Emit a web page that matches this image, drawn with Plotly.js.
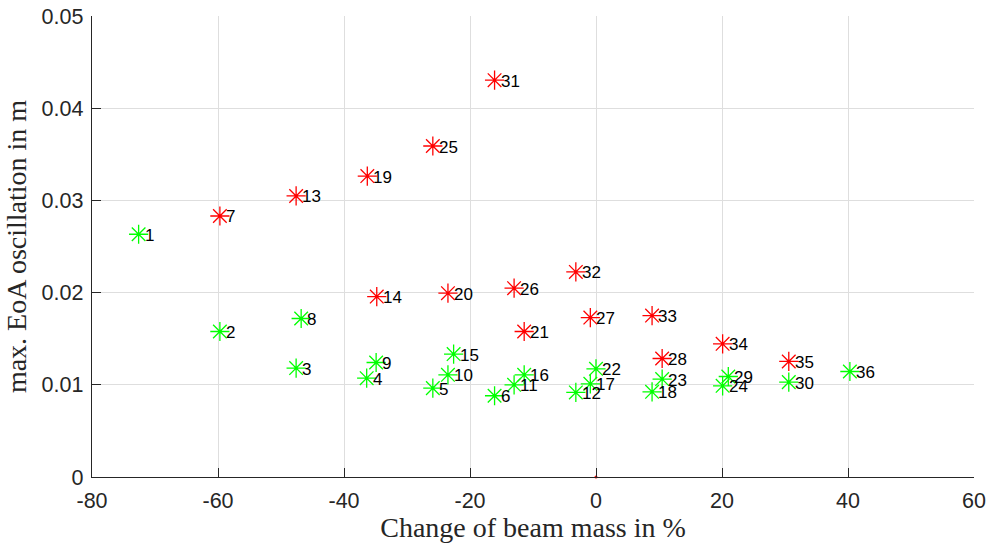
<!DOCTYPE html>
<html>
<head>
<meta charset="utf-8">
<script src="https://cdn.plot.ly/plotly-3.0.1.min.js"></script>
<style>html,body{margin:0;padding:0;background:#fff;}#chart{width:989px;height:543px;}</style>
</head>
<body>
<div id="chart"></div>
<script>
// Red group (larger oscillation)
var redIds = [7, 13, 19, 25, 31, 14, 20, 26, 21, 32, 27, 33, 28, 34, 35];
var redX   = [-59.7, -47.6, -36.3, -25.9, -16.1, -34.8, -23.5, -13.0, -11.4, -3.2, -0.9, 8.9, 10.5, 20.1, 30.6];
var redY   = [0.02831, 0.03048, 0.03264, 0.03590, 0.04304, 0.01957, 0.01994, 0.02048, 0.01578, 0.02224, 0.01729, 0.01751, 0.01285, 0.01444, 0.01253];

// Green group
var greenIds = [1, 2, 3, 4, 5, 6, 8, 9, 10, 11, 12, 15, 16, 17, 18, 22, 23, 24, 29, 30, 36];
var greenX   = [-72.6, -59.7, -47.6, -36.4, -25.9, -16.1, -46.8, -34.9, -23.5, -13.0, -3.2, -22.6, -11.4, -0.9, 8.9, 0.0, 10.5, 20.1, 21.0, 30.6, 40.3];
var greenY   = [0.02633, 0.01578, 0.01181, 0.01072, 0.00964, 0.00881, 0.01719, 0.01242, 0.01108, 0.01000, 0.00917, 0.01333, 0.01108, 0.01011, 0.00924, 0.01173, 0.01062, 0.00989, 0.01090, 0.01029, 0.01144];

// Reference point
var refX = [0];
var refY = [0];

var xTickVals = [-80, -60, -40, -20, 0, 20, 40, 60];
var xTickText = ['-80', '-60', '-40', '-20', '0', '20', '40', '60'];
var yTickVals = [0, 0.01, 0.02, 0.03, 0.04, 0.05];
var yTickText = ['0', '0.01', '0.02', '0.03', '0.04', '0.05'];

var xTitle = 'Change of beam mass in %';
var yTitle = 'max. EoA oscillation in m';

var axisColor = '#262626';
var gridColor = '#dedede';
var sans = 'Liberation Sans, Arial, sans-serif';
var serif = 'Liberation Serif, Times New Roman, serif';

function markerTrace(xs, ys, color) {
  return {
    type: 'scatter', mode: 'markers', x: xs, y: ys, hoverinfo: 'skip',
    marker: {symbol: 'asterisk-open', size: 16, color: color, line: {color: color, width: 1.3}},
    cliponaxis: false
  };
}

var traces = [
  markerTrace(greenX, greenY, '#00ff00'),
  markerTrace(redX, redY, '#ff0000'),
  {type: 'scatter', mode: 'markers', x: refX, y: refY, hoverinfo: 'skip', cliponaxis: false,
   marker: {symbol: 'circle', size: 3, color: '#ff0000'}}
];

var annotations = [];
function addLabels(ids, xs, ys) {
  for (var i = 0; i < ids.length; i++) {
    annotations.push({
      x: xs[i], y: ys[i], xref: 'x', yref: 'y', text: String(ids[i]),
      showarrow: false, xanchor: 'left', yanchor: 'middle', xshift: 4, yshift: -1,
      font: {family: sans, size: 17, color: '#000000'}
    });
  }
}
addLabels(greenIds, greenX, greenY);
addLabels(redIds, redX, redY);

var layout = {
  width: 989, height: 543,
  margin: {l: 92, r: 15, t: 16, b: 66},
  paper_bgcolor: '#ffffff', plot_bgcolor: '#ffffff',
  showlegend: false,
  font: {family: sans, color: axisColor},
  xaxis: {
    range: [-80, 60], tickvals: xTickVals, ticktext: xTickText,
    ticks: 'inside', ticklen: 9, tickwidth: 1, tickcolor: axisColor,
    showline: true, linecolor: axisColor, linewidth: 1.3, mirror: false,
    showgrid: true, gridcolor: gridColor, gridwidth: 1, zeroline: false,
    ticklabelstandoff: 4,
    tickfont: {family: sans, size: 21.5, color: axisColor},
    title: {text: xTitle, standoff: 6, font: {family: serif, size: 28, color: axisColor}}
  },
  yaxis: {
    range: [0, 0.05], tickvals: yTickVals, ticktext: yTickText,
    ticks: 'inside', ticklen: 9, tickwidth: 1, tickcolor: axisColor,
    showline: true, linecolor: axisColor, linewidth: 1.3, mirror: false,
    showgrid: true, gridcolor: gridColor, gridwidth: 1, zeroline: false,
    ticklabelstandoff: 3,
    tickfont: {family: sans, size: 21.5, color: axisColor},
    title: {text: yTitle, standoff: 6, font: {family: serif, size: 28, color: axisColor}}
  },
  annotations: annotations
};

Plotly.newPlot('chart', traces, layout, {staticPlot: true, displayModeBar: false});
</script>
</body>
</html>
